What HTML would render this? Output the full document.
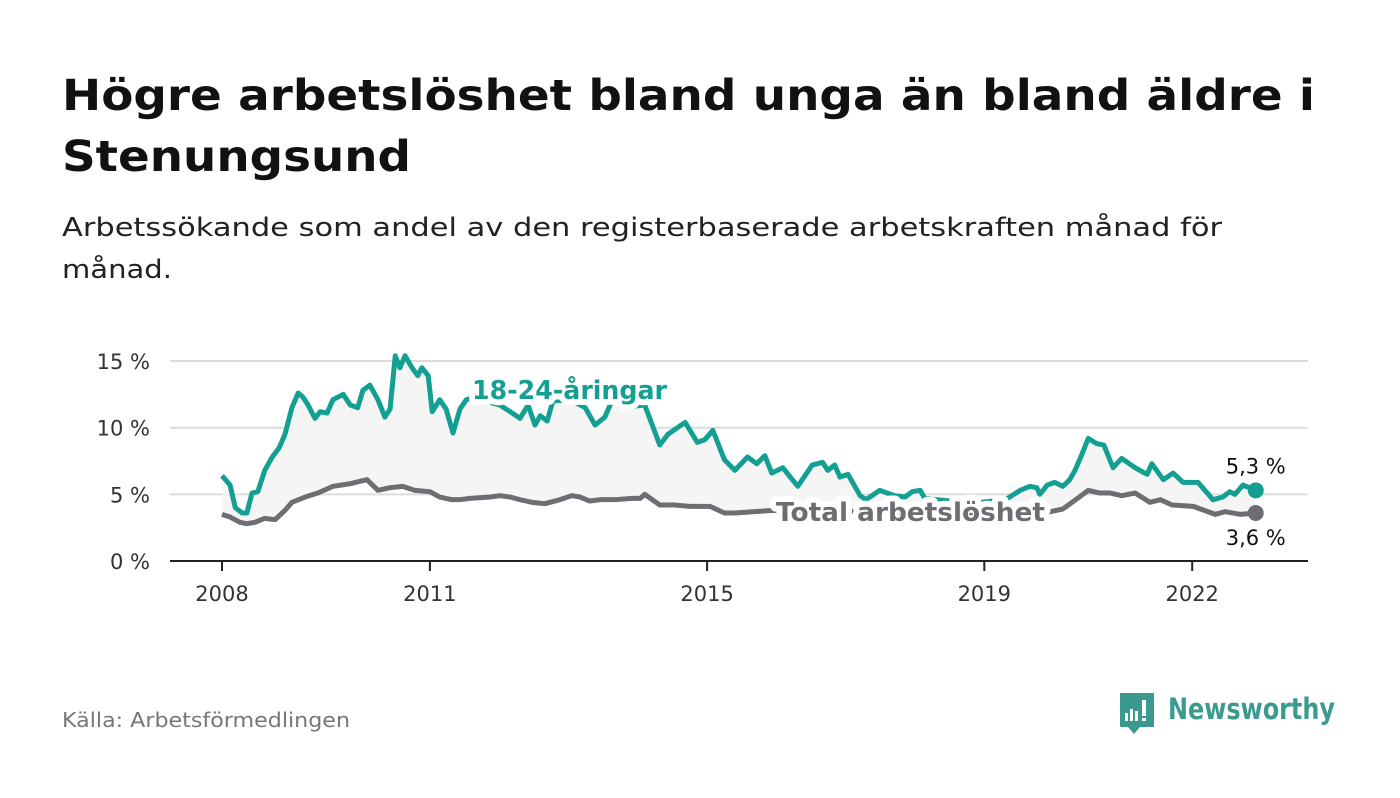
<!DOCTYPE html>
<html><head><meta charset="utf-8">
<style>
body{margin:0;background:#fff;width:1400px;height:794px;overflow:hidden;font-family:"DejaVu Sans","Liberation Sans",sans-serif;}
</style></head>
<body>
<svg id="chart" width="1400" height="794" viewBox="0 0 1400 794" xmlns="http://www.w3.org/2000/svg" font-family="DejaVu Sans, Liberation Sans, sans-serif">
<text x="62" y="110" font-size="43" font-weight="bold" fill="#111" textLength="1253" lengthAdjust="spacingAndGlyphs">Högre arbetslöshet bland unga än bland äldre i</text>
<text x="62" y="171" font-size="43" font-weight="bold" fill="#111" textLength="349" lengthAdjust="spacingAndGlyphs">Stenungsund</text>
<text x="62" y="236" font-size="26" fill="#222" textLength="1160" lengthAdjust="spacingAndGlyphs">Arbetssökande som andel av den registerbaserade arbetskraften månad för</text>
<text x="62" y="278" font-size="26" fill="#222" textLength="110" lengthAdjust="spacingAndGlyphs">månad.</text>
<g id="grid"></g>
<g id="yaxis"></g>
<g id="xaxis"></g>
<g id="series"></g>
<text x="62" y="727" font-size="20" fill="#777" textLength="288" lengthAdjust="spacingAndGlyphs">Källa: Arbetsförmedlingen</text>
<g>
<path d="M1120 693h34v34h-14l-6 7-6-7h-8z" fill="#3a9a8f"/>
<rect x="1125" y="713" width="3" height="8" fill="#fff"/><rect x="1130" y="709" width="3" height="12" fill="#fff"/><rect x="1135" y="711" width="3" height="10" fill="#fff"/><rect x="1142" y="700" width="4" height="16" fill="#fff"/><rect x="1142" y="718" width="4" height="3" fill="#fff"/>
<text x="1168" y="719" font-size="29" font-weight="bold" fill="#3a9a8f" textLength="167" lengthAdjust="spacingAndGlyphs">Newsworthy</text>
</g>
</svg>
<script>
const youthMonths=[0,1.4,2.3,3.5,4.3,5.2,6.2,7.4,8.7,9.9,10.9,12.1,13.2,14,14.9,16.1,17,18.2,19.2,21,22.2,23.5,24.4,25.6,27,28.2,29.1,30,30.8,31.7,32.9,33.9,34.6,35.7,36.4,37.7,38.8,40,41.2,42.3,43.8,46.4,48.1,49.9,51.6,53,54.2,55.1,56.3,57.3,60.3,62.9,64.6,66.3,67.7,69.8,71.2,73.2,75.8,77.2,80.2,82.3,83.6,85,87,88.8,91,92.6,94,95.2,97.1,99.7,102.2,104,104.9,106.1,107,108.4,110.5,111.5,113.9,116.5,118.3,119.5,120.9,121.7,126,131.3,135.6,136.4,138.2,139.9,141.1,141.6,142.9,144.2,145.6,146.8,147.7,148.9,150,151.5,152.7,154.3,155.8,158.1,160.2,161,163,164.7,166.4,169,171.6,173.3,174.5,175.4,176.8,179];
const youthValues=[6.4,5.7,4.0,3.6,3.6,5.1,5.2,6.8,7.8,8.5,9.5,11.5,12.6,12.3,11.7,10.7,11.2,11.1,12.1,12.5,11.7,11.5,12.8,13.2,12.1,10.8,11.4,15.4,14.5,15.4,14.5,13.9,14.5,13.9,11.2,12.1,11.4,9.6,11.4,12.1,12.3,11.9,11.7,11.2,10.7,11.7,10.2,10.9,10.5,12.0,12.1,11.5,10.2,10.8,12.2,11.8,11.6,11.7,8.7,9.5,10.4,8.9,9.1,9.8,7.6,6.8,7.8,7.3,7.9,6.6,7.0,5.6,7.2,7.4,6.8,7.2,6.3,6.5,4.9,4.6,5.3,4.9,4.8,5.2,5.3,4.7,4.5,4.4,4.6,4.8,5.3,5.6,5.5,5.0,5.7,5.9,5.6,6.1,6.8,8.0,9.2,8.8,8.7,7.0,7.7,7.0,6.5,7.3,6.1,6.6,5.9,5.9,4.6,4.8,5.2,5.0,5.7,5.3];
const totalMonths=[0,1.4,3.1,4.3,5.7,7.4,9.2,10.9,12.1,14.4,16.6,19.2,22.2,25.1,27,29.1,31.3,33.4,36,37.7,39.8,41.2,42.9,46.4,48.1,49.9,51.6,53.7,55.9,58.5,60.6,62,63.7,65.5,68,71,72.4,73.2,75.8,78.4,81,84.5,87,88.8,92.3,95.4,110,125,140,143.4,145.6,147.2,150,152,153.8,155.8,158.1,160.7,162.5,164.5,168.2,172,173.7,176.3,179];
const totalValues=[3.5,3.3,2.9,2.8,2.9,3.2,3.1,3.8,4.4,4.8,5.1,5.6,5.8,6.1,5.3,5.5,5.6,5.3,5.2,4.8,4.6,4.6,4.7,4.8,4.9,4.8,4.6,4.4,4.3,4.6,4.9,4.8,4.5,4.6,4.6,4.7,4.7,5.0,4.2,4.2,4.1,4.1,3.6,3.6,3.7,3.8,3.7,3.5,3.6,3.7,3.9,4.4,5.3,5.1,5.1,4.9,5.1,4.4,4.6,4.2,4.1,3.5,3.7,3.5,3.6];
const yTicks=[0,5,10,15];
const yTickLabels=["0 %","5 %","10 %","15 %"];
const xTickYears=[2008,2011,2015,2019,2022];

const NS="http://www.w3.org/2000/svg";
const X0=222, PXM=5.775, Y0=561, PXV=13.33;
const xMonth=m=>X0+m*PXM;
const xYear=yr=>X0+(yr-2008)*12*PXM;
const yVal=v=>Y0-v*PXV;
function mk(tag,attrs,parent){const e=document.createElementNS(NS,tag);for(const k in attrs)e.setAttribute(k,attrs[k]);parent.appendChild(e);return e;}
const grid=document.getElementById('grid'),yaxis=document.getElementById('yaxis'),xaxis=document.getElementById('xaxis'),series=document.getElementById('series');
yTicks.forEach((v,i)=>{
  if(v>0){const l=mk('line',{x1:170,x2:1308,y1:yVal(v),y2:yVal(v),stroke:'#dcdcdc','stroke-width':2},grid);
  
  }
  const t=mk('text',{x:150,y:yVal(v)+8,'text-anchor':'end','font-size':21,fill:'#333'},yaxis);
  
  
  t.textContent=yTickLabels[i];
});
const ax=mk('line',{x1:170,x2:1308,y1:Y0,y2:Y0,stroke:'#222','stroke-width':2},xaxis);


xTickYears.forEach(yr=>{
  const x=xYear(yr);
  const tk=mk('line',{x1:x,x2:x,y1:Y0,y2:Y0+10,stroke:'#222','stroke-width':2},xaxis);
  
  
  const t=mk('text',{x:x,y:601,'text-anchor':'middle','font-size':21,fill:'#333'},xaxis);
  
  
  t.textContent=yr;
});
const yPts=youthMonths.map((m,i)=>[xMonth(m),yVal(youthValues[i])]);
const tPts=totalMonths.map((m,i)=>[xMonth(m),yVal(totalValues[i])]);
const fill=mk('polygon',{points:yPts.concat(tPts.slice().reverse()).map(p=>p.join(',')).join(' '),fill:'#f5f5f5'},series);


const tl=mk('polyline',{points:tPts.map(p=>p.join(',')).join(' '),fill:'none',stroke:'#6e6d72','stroke-width':5,'stroke-linejoin':'round'},series);


const yl=mk('polyline',{points:yPts.map(p=>p.join(',')).join(' '),fill:'none',stroke:'#13a093','stroke-width':5,'stroke-linejoin':'round'},series);


function label(txt,x,y,size,col,name,anchor,weight,len){
  const a={x:x,y:y,'font-size':size,'font-weight':weight,fill:col,stroke:'#fff','stroke-width':12,'stroke-linejoin':'round','paint-order':'stroke','text-anchor':anchor};
  if(len){a.textLength=len;a.lengthAdjust='spacingAndGlyphs';}
  const t=mk('text',a,series);
  
  
  t.textContent=txt;
}
label('18-24-åringar',472,399,26,'#13a093','youth-label','start','bold',195);
label('Total arbetslöshet',776,521,26,'#6e6d72','total-label','start','bold',269);
const ly=yPts[yPts.length-1], lt=tPts[tPts.length-1];
const d1=mk('circle',{cx:ly[0],cy:ly[1],r:8,fill:'#13a093'},series);


const d2=mk('circle',{cx:lt[0],cy:lt[1],r:8,fill:'#6e6d72'},series);


label(youthValues[youthValues.length-1].toFixed(1).replace('.',',')+' %',ly[0],ly[1]-17,21,'#111','youth-end-value','middle','normal');
label(totalValues[totalValues.length-1].toFixed(1).replace('.',',')+' %',lt[0],lt[1]+32,21,'#111','total-end-value','middle','normal');
</script>
</body></html>
